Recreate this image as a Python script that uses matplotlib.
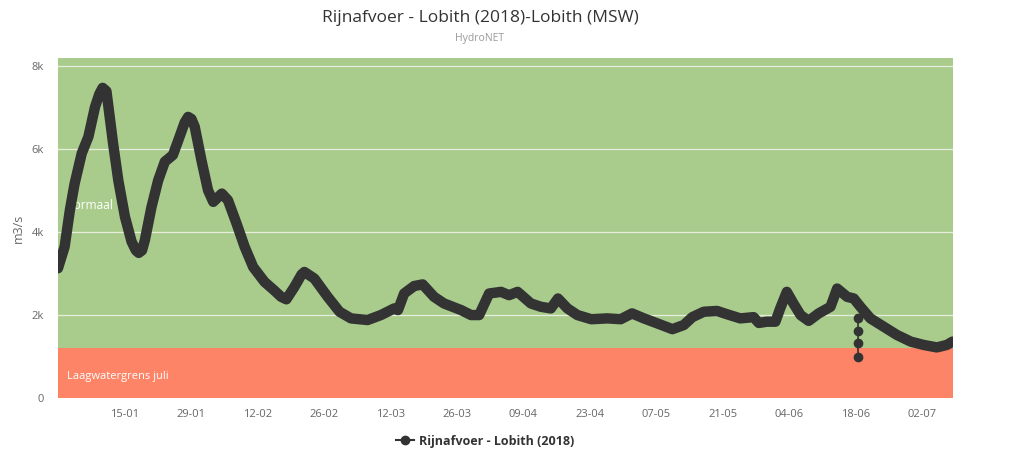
import matplotlib
matplotlib.use("Agg")
import matplotlib.pyplot as plt
from matplotlib.lines import Line2D

plt.rcParams['font.family'] = ['Open Sans', 'DejaVu Sans']

# ---- data (day offset from 2018-01-01, discharge m3/s) ----
days = [0.0, 1.4, 2.5, 3.5, 5.0, 6.4, 7.8, 8.7, 9.4, 10.2, 11.6, 12.7, 14.1, 15.5, 16.4, 17.0,
        17.7, 18.3, 19.7, 21.1, 22.5, 24.2, 25.6, 26.7, 27.4, 28.1, 28.8, 30.2, 31.6, 32.7, 34.5,
        35.8, 37.6, 39.3, 41.1, 43.5, 45.5, 47.0, 48.1, 49.8, 51.3, 51.9, 54.0, 56.8,
        59.3, 61.7, 65.2, 68.0, 70.8, 71.6, 72.9, 75.0, 76.8, 79.2, 81.3, 84.9,
        87.0, 88.7, 90.8, 93.3, 95.0, 96.8, 99.6, 101.7, 103.8, 105.3, 107.3,
        109.4, 112.3, 115.7, 118.5, 120.9, 123.4, 126.2, 129.4, 131.8, 133.6,
        136.0, 138.8, 140.9, 143.7, 146.5, 147.6, 149.3, 151.1, 152.1, 153.5,
        154.9, 156.4, 158.1, 160.2, 162.7, 164.1, 166.2, 167.6, 169.0, 171.1,
        173.9, 176.7, 179.6, 182.3, 185.1, 187.2, 188.4]
flow = [3130, 3650, 4530, 5170, 5900, 6300, 7020, 7330, 7480, 7400, 6140, 5250, 4370, 3770, 3560, 3500,
        3560, 3810, 4610, 5250, 5700, 5860, 6300, 6650, 6780, 6730, 6540, 5740, 5010, 4730, 4930,
        4770, 4210, 3650, 3160, 2800, 2600, 2440, 2380, 2680, 2980, 3040, 2880, 2440,
        2080, 1920, 1880, 2000, 2160, 2120, 2520, 2700, 2740, 2440, 2280, 2120,
        2000, 2000, 2520, 2560, 2480, 2560, 2280, 2200, 2160, 2400, 2160,
        2000, 1900, 1920, 1900, 2040, 1920, 1800, 1660, 1760, 1950,
        2080, 2100, 2020, 1920, 1950, 1810, 1840, 1840, 2160, 2560,
        2280, 2000, 1860, 2040, 2200, 2640, 2440, 2400, 2200, 1920,
        1720, 1520, 1360, 1280, 1220, 1280, 1360]

dip_days = [168.4, 168.4, 168.4, 168.4]
dip_flow = [1920, 1610, 1320, 1000]

tick_days = [14, 28, 42, 56, 70, 84, 98, 112, 126, 140, 154, 168, 182]
tick_labels = ['15-01', '29-01', '12-02', '26-02', '12-03', '26-03', '09-04',
               '23-04', '07-05', '21-05', '04-06', '18-06', '02-07']
y_ticks = [0, 2000, 4000, 6000, 8000]
y_labels = ['0', '2k', '4k', '6k', '8k']

low_limit = 1200
y_max = 8200
x_max = 188.5

title = 'Rijnafvoer - Lobith (2018)-Lobith (MSW)'
subtitle = 'HydroNET'
series_name = 'Rijnafvoer - Lobith (2018)'

# ---- figure ----
fig = plt.figure(figsize=(10.23, 4.69), dpi=100)
ax = fig.add_axes([58/1023, 71/469, 895/1023, 340/469])

ax.axhspan(low_limit, y_max, color='#a9cc8d', zorder=0, lw=0)
ax.axhspan(0, low_limit, color='#fd8467', zorder=0, lw=0)
for yt in y_ticks[1:]:
    ax.axhline(yt, color='#e6eddc', lw=0.9, zorder=1)

ax.text(1.6, 4650, 'Normaal', color='white', fontsize=8.5, va='center', ha='left', zorder=2)
ax.text(2.0, 520, 'Laagwatergrens juli', color='white', fontsize=8, va='center', ha='left', zorder=2)

col = '#333333'
ax.plot(days, flow, color=col, lw=7.5, solid_capstyle='round', solid_joinstyle='round', zorder=3)
ax.plot(dip_days, dip_flow, color=col, lw=1.2, marker='o', ms=6, zorder=3)

ax.set_xlim(0, x_max)
ax.set_ylim(0, y_max)
ax.set_xticks(tick_days)
ax.set_xticklabels(tick_labels)
ax.set_yticks(y_ticks)
ax.set_yticklabels(y_labels)
ax.tick_params(axis='both', length=0, colors='#666666', labelsize=8)
ax.tick_params(axis='x', pad=8)
ax.tick_params(axis='y', pad=10)
for s in ax.spines.values():
    s.set_visible(False)
ax.set_ylabel('m3/s', color='#666666', fontsize=9, labelpad=5)

fig.text(480/1023, 1 - 18/469, title, ha='center', va='center', fontsize=12.5, color='#333333')
fig.text(480/1023, 1 - 38/469, subtitle, ha='center', va='center', fontsize=7.5, color='#999999')

handle = Line2D([0], [0], color=col, lw=1.5, marker='o', ms=6)
leg = fig.legend([handle], [series_name], loc='center', bbox_to_anchor=(485/1023, 1 - 441/469),
                 frameon=False, prop={'weight': 'bold', 'size': 9}, handlelength=1.5,
                 handletextpad=0.4)
for t in leg.get_texts():
    t.set_color('#333333')

fig.savefig('out.png', dpi=100)
